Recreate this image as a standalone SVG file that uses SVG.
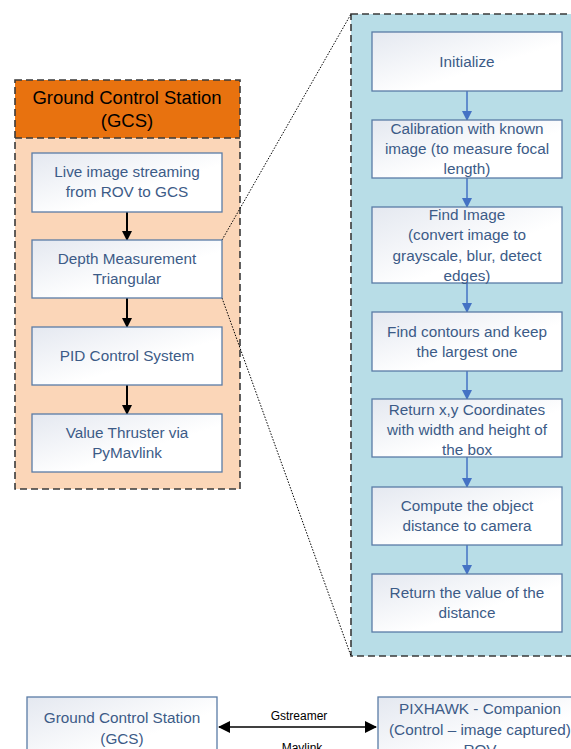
<svg xmlns="http://www.w3.org/2000/svg" width="571" height="749" viewBox="0 0 571 749">
<style>
.box{fill:url(#g);stroke:#5a7ca6;stroke-width:1.3}
.t{font-family:"Liberation Sans",Arial,sans-serif;font-size:15.3px;fill:#3c5b87;text-anchor:middle}
.h{font-family:"Liberation Sans",Arial,sans-serif;font-size:18.5px;fill:#000;text-anchor:middle}
.s{font-family:"Liberation Sans",Arial,sans-serif;font-size:12px;fill:#000;text-anchor:middle}
.cont{stroke:#3a3a3a;stroke-width:1.6;stroke-dasharray:7 4}
.dot{fill:none;stroke:#000;stroke-width:1;stroke-dasharray:1.5 1.5}
.ab{stroke:#000;stroke-width:2;marker-end:url(#ka)}
.al{stroke:#4472c4;stroke-width:1.5;marker-end:url(#ba)}
</style>
<defs>
<linearGradient id="g" x1="0" y1="0" x2="1" y2="1">
<stop offset="0" stop-color="#e4e8f0"/><stop offset="0.6" stop-color="#ffffff"/></linearGradient>
<marker id="ka" markerWidth="10" markerHeight="10" refX="9" refY="5" orient="auto" markerUnits="userSpaceOnUse"><path d="M0,0L10,5L0,10z" fill="#000"/></marker>
<marker id="ba" markerWidth="10" markerHeight="10" refX="9" refY="5" orient="auto" markerUnits="userSpaceOnUse"><path d="M0,0L10,5L0,10z" fill="#4472c4"/></marker>
<marker id="kb" markerWidth="12" markerHeight="12" refX="11" refY="6" orient="auto-start-reverse" markerUnits="userSpaceOnUse"><path d="M0,0L12,6L0,12z" fill="#000"/></marker>
</defs>
<g id="gcs-container">
<rect x="15" y="80" width="225" height="409" fill="#fbd6b8"/>
<rect x="15" y="80" width="225" height="58" fill="#e8720f"/>
<rect x="15" y="80" width="225" height="409" fill="none" class="cont"/>
<line x1="15" y1="138" x2="240" y2="138" class="cont"/>
<text class="h" x="127" y="104">Ground Control Station</text>
<text class="h" x="127" y="127">(GCS)</text>
</g>
<g id="depth-container">
<rect x="351" y="14" width="230" height="642" fill="#b8dde7" class="cont"/>
</g>
<g id="connectors">
<path class="dot" d="M222,240L351,14"/>
<path class="dot" d="M222,298L351,656"/>
<line class="ab" x1="127" y1="212" x2="127" y2="240"/>
<line class="ab" x1="127" y1="298" x2="127" y2="327"/>
<line class="ab" x1="127" y1="385" x2="127" y2="414"/>
<line class="al" x1="467" y1="91" x2="467" y2="120"/>
<line class="al" x1="467" y1="178" x2="467" y2="207"/>
<line class="al" x1="467" y1="283" x2="467" y2="312"/>
<line class="al" x1="467" y1="371" x2="467" y2="399"/>
<line class="al" x1="467" y1="457" x2="467" y2="487"/>
<line class="al" x1="467" y1="545" x2="467" y2="574"/>
<line x1="219" y1="727" x2="376" y2="727" stroke="#000" stroke-width="1.5" marker-start="url(#kb)" marker-end="url(#kb)"/>
<text class="s" x="299" y="720">Gstreamer</text>
<text class="s" x="302" y="752">Mavlink</text>
</g>
<g id="live"><rect class="box" x="32" y="153" width="190" height="59"/>
<text class="t" x="127" y="177">Live image streaming</text><text class="t" x="127" y="197">from ROV to GCS</text></g>
<g id="depth"><rect class="box" x="32" y="240" width="190" height="58"/>
<text class="t" x="127" y="264">Depth Measurement</text><text class="t" x="127" y="284">Triangular</text></g>
<g id="pid"><rect class="box" x="32" y="327" width="190" height="58"/>
<text class="t" x="127" y="361">PID Control System</text></g>
<g id="thruster"><rect class="box" x="32" y="414" width="190" height="58"/>
<text class="t" x="127" y="438">Value Thruster via</text><text class="t" x="127" y="458">PyMavlink</text></g>
<g id="init"><rect class="box" x="372" y="32" width="190" height="59"/>
<text class="t" x="467" y="67">Initialize</text></g>
<g id="calib"><rect class="box" x="372" y="120" width="190" height="58"/>
<text class="t" x="467" y="134">Calibration with known</text><text class="t" x="467" y="154">image (to measure focal</text><text class="t" x="467" y="174">length)</text></g>
<g id="find"><rect class="box" x="372" y="207" width="190" height="76"/>
<text class="t" x="467" y="220">Find Image</text><text class="t" x="467" y="240">(convert image to</text><text class="t" x="467" y="261">grayscale, blur, detect</text><text class="t" x="467" y="281">edges)</text></g>
<g id="contours"><rect class="box" x="372" y="312" width="190" height="59"/>
<text class="t" x="467" y="337">Find contours and keep</text><text class="t" x="467" y="357">the largest one</text></g>
<g id="coords"><rect class="box" x="372" y="399" width="190" height="58"/>
<text class="t" x="467" y="415">Return x,y Coordinates</text><text class="t" x="467" y="435">with width and height of</text><text class="t" x="467" y="455">the box</text></g>
<g id="compute"><rect class="box" x="372" y="487" width="190" height="58"/>
<text class="t" x="467" y="511">Compute the object</text><text class="t" x="467" y="531">distance to camera</text></g>
<g id="return"><rect class="box" x="372" y="574" width="190" height="58"/>
<text class="t" x="467" y="598">Return the value of the</text><text class="t" x="467" y="618">distance</text></g>
<g id="gcs-bottom"><rect class="box" x="27" y="697" width="190" height="70"/>
<text class="t" x="122" y="723">Ground Control Station</text><text class="t" x="122" y="744">(GCS)</text></g>
<g id="pixhawk"><rect class="box" x="378" y="697" width="210" height="70"/>
<text class="t" x="480" y="714">PIXHAWK - Companion</text><text class="t" x="480" y="735">(Control – image captured)</text><text class="t" x="480" y="755">ROV</text></g>
</svg>
